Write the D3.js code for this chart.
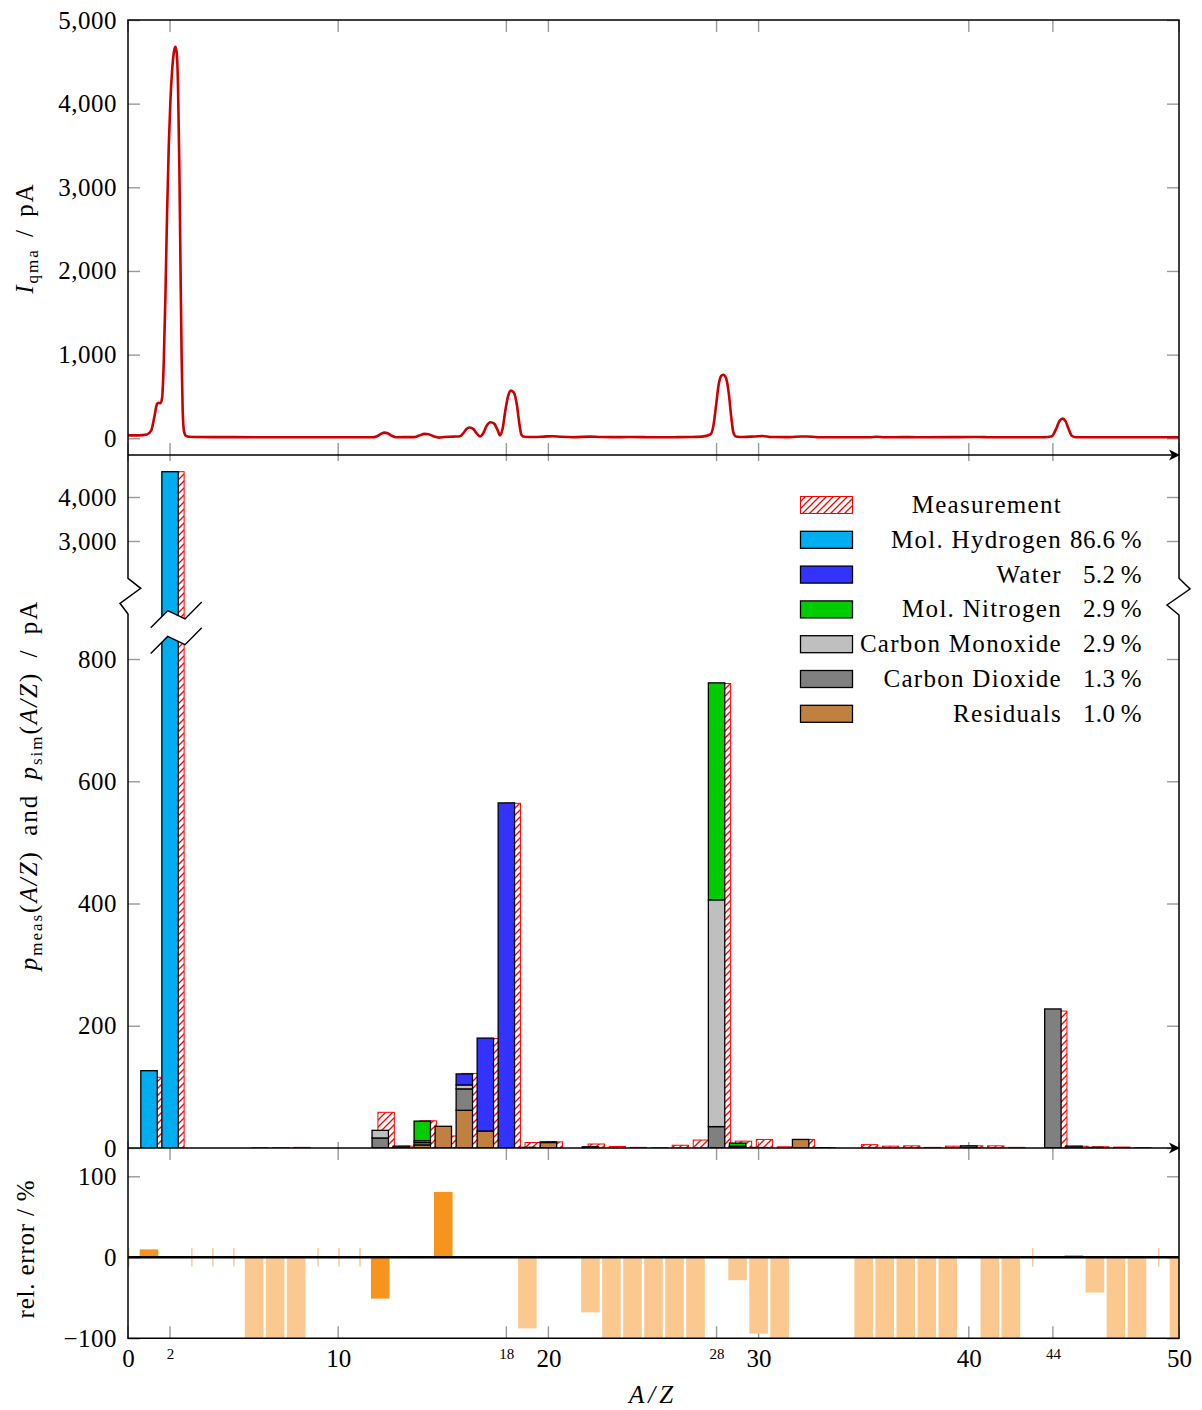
<!DOCTYPE html>
<html lang="en">
<head>
<meta charset="UTF-8">
<title>QMA spectrum and fit</title>
<script src="https://cdn.jsdelivr.net/npm/d3@7"></script>
<style>
  body { margin: 0; background: #fff; }
  svg { display: block; font-family: "Liberation Serif", "DejaVu Serif", serif; }
  .tick line { stroke: #9a9a9a; stroke-width: 1.4; }
  .tick text { fill: #000; }
</style>
</head>
<body>
<svg id="chart" width="1202" height="1410"></svg>
<script>
  // ---- data ----
  // measured QMA current along A/Z (top panel)
  const specX = [0, 0.5, 0.9, 1.1, 1.25, 1.38, 1.45, 1.55, 1.62, 1.7, 1.78, 1.86, 1.94, 2.02, 2.1, 2.2, 2.26, 2.32, 2.38, 2.44, 2.5, 2.55, 2.6, 2.66, 2.75, 2.9,
    4, 6, 8, 10, 11.6, 11.85, 12.05, 12.2, 12.35, 12.55, 12.75, 13.6, 13.85, 14.1, 14.3, 14.55, 14.8, 15.05, 15.5, 15.8, 15.95, 16.1, 16.25, 16.42, 16.6, 16.75,
    16.9, 17.05, 17.25, 17.42, 17.58, 17.7, 17.82, 17.95, 18.08, 18.22, 18.36, 18.5, 18.62, 18.72, 18.85, 19.3, 19.8, 20.2, 20.6, 21.2, 22, 22.5, 23.5, 24, 25, 26,
    26.8, 27.3, 27.7, 27.85, 27.98, 28.1, 28.22, 28.32, 28.45, 28.58, 28.7, 28.8, 28.92, 29.3, 29.8, 30.2, 30.6, 31.5, 32, 32.3, 32.8, 34, 35.3, 35.6, 36, 37, 38,
    39.5, 40.5, 41, 43.6, 43.95, 44.15, 44.3, 44.45, 44.6, 44.75, 44.9, 45.1, 46, 48, 50];
  const specY = [35, 35, 45, 90, 250, 410, 425, 420, 480, 900, 1700, 2700, 3500, 4050, 4400, 4640, 4680, 4600, 4200, 3300, 2000, 1000, 350, 90, 30, 18,
    14, 13, 12, 12, 12, 25, 55, 68, 60, 30, 13, 14, 32, 52, 48, 22, 8, 16, 20, 25, 60, 110, 128, 112, 55, 22,
    60, 145, 192, 175, 100, 35, 110, 330, 500, 570, 545, 400, 170, 40, 18, 15, 20, 25, 18, 13, 20, 15, 14, 16, 12, 13,
    15, 20, 45, 150, 400, 640, 745, 760, 720, 540, 250, 70, 22, 15, 22, 28, 15, 14, 22, 22, 13, 12, 12, 18, 12, 14, 12,
    14, 16, 12, 12, 25, 110, 200, 235, 205, 110, 30, 13, 12, 12, 12];

  // integer A/Z channels 0..50 (middle panel), pA
  const masses = d3.range(0, 51);
  const h2   = [0,126.5,4575,0,0,0,0,0,0,0, 0,0,0,0,0,0,0,0,0,0, 0,0,0,0,0,0,0,0,0,0, 0,0,0,0,0,0,0,0,0,0, 0,0,0,0,0,0,0,0,0,0, 0];
  const h2o  = [0,0,0,0,0,0,0,0,0,0, 0,0,0,0,0,0,18,152,564.6,0, 0,0,0,0,0,0,0,0,0,0, 0,0,0,0,0,0,0,0,0,0, 0,0,0,0,0,0,0,0,0,0, 0];
  const n2   = [0,0,0,0,0,0,0,0,0,0, 0,0,0,0,32,0,0,0,0,0, 0,0,0,0,0,0,0,0,355,5, 0,0,0,0,0,0,0,0,0,0, 0,0,0,0,0,0,0,0,0,0, 0];
  const co   = [0,0,0,0,0,0,0,0,0,0, 0,0,12.5,0,3,0,6.5,0,0,0, 0,0,0,0,0,0,0,0,371,2, 0,0,0,0,0,0,0,0,0,0, 0,0,0,0,0,0,0,0,0,0, 0];
  const co2  = [0,0,0,0,0,0,0,0,0,0, 0,0,16.4,3,4,0,35,0,0,0, 1,0,2,0,0,0,0,0,35,1, 0,0,0,0,0,0,0,0,0,0, 3.5,0,0,0,227.5,3,1.1,0,0,0, 0];
  const resid= [0,0,0,0,0,0,0,0,0,0, 0,0,0,0,5,35.5,61.7,27.8,0,1.1, 9,0,0,0,0,0,0,0,0,0, 0.8,0,14,0.5,0,0,0,0,0,0, 0,0,0,0,0,0,0,0,0,0, 0];
  const meas = [0,115.7,4575,0,0,0,0.5,0.5,1,0, 0,0,58.4,3,44.5,19.6,122,179,564,9, 10,0,6.5,2.5,1,0.6,4.5,13,760,11.2, 14,2,14,0.5,0,5.5,3,3.5,1,3, 3.5,3.5,1,0,224,2.9,2,1.5,0.8,0, 0.5];

  // relative error in %, NaN where undefined (bottom panel)
  const relErr = [NaN,9.8,0,NaN,NaN,NaN,-100,-100,-100,NaN, NaN,NaN,-51,0,0,80.7,0,0,0,-87.8, 0,0,-68,-100,-100,-100,-100,-100,0,-28.3,
    -94.3,-100,0,0,0,-100,-100,-100,-100,-100, 0,-100,-100,NaN,1,2.5,-43.5,-100,-100,NaN, -100];
  const relStrong = [1, 2, 12, 13, 14, 15, 16, 17, 18, 20, 28, 32, 44, 45];

  // legend
  const species = ['resid', 'co2', 'co', 'n2', 'h2o', 'h2'];
  const legendNames = ['Measurement', 'Mol. Hydrogen', 'Water', 'Mol. Nitrogen', 'Carbon Monoxide', 'Carbon Dioxide', 'Residuals'];
  const legendPct = ['', '86.6', '5.2', '2.9', '2.9', '1.3', '1.0'];

  const colors = { h2: '#00aeef', h2o: '#3333ff', n2: '#00cc00', co: '#bfbfbf', co2: '#808080', resid: '#bf8040' };
  const legendKeys = ['meas', 'h2', 'h2o', 'n2', 'co', 'co2', 'resid'];

  // ---- layout ----
  const left = 128, right = 1179;
  const p1 = { top: 20, bottom: 455 };
  const p2 = { top: 455, bottom: 1148 };
  const p3 = { top: 1148, bottom: 1338.3 };

  const x = d3.scaleLinear().domain([0, 50]).range([left, right]);
  const y1 = d3.scaleLinear().domain([-200, 5000]).range([p1.bottom, p1.top]);
  // broken axis: linear up to 900, squeezed gap, compressed upper part
  const y2 = d3.scaleLinear().domain([0, 900, 2000, 5000]).range([p2.bottom, 597.9, 585, 453]);
  const y3 = d3.scaleLinear().domain([-100, 100]).range([p3.bottom, 1176.3]);

  const svg = d3.select('#chart');
  const defs = svg.append('defs');
  const hatch = defs.append('pattern').attr('id', 'hatch')
    .attr('patternUnits', 'userSpaceOnUse').attr('width', 7).attr('height', 7);
  hatch.append('path').attr('d', 'M-1,1 l2,-2 M0,7 l7,-7 M6,8 l2,-2')
    .attr('stroke', '#ff0000').attr('stroke-width', 1.3);

  const clips = [['c1', p1], ['c2', p2], ['c3', p3]];
  clips.forEach(([id, p]) => {
    defs.append('clipPath').attr('id', id).append('rect')
      .attr('x', left).attr('y', p.top).attr('width', right - left).attr('height', p.bottom - p.top);
  });

  const tickFont = 25;

  // x ticks on one edge of a panel
  function xTicks(yPos, dir, len, values) {
    const g = svg.append('g');
    g.selectAll('line').data(values).enter().append('line')
      .attr('x1', d => x(d)).attr('x2', d => x(d))
      .attr('y1', yPos).attr('y2', yPos + dir * len)
      .attr('stroke', '#9a9a9a').attr('stroke-width', 1.4);
  }
  const xMajor = [0, 10, 20, 30, 40, 50];
  const xMinor = [2, 18, 28, 44];
  const xAll = xMajor.concat(xMinor);

  function yAxisPair(scale, values, fmt) {
    const axL = d3.axisLeft(scale).tickValues(values).tickSizeInner(-12).tickSizeOuter(0).tickPadding(11).tickFormat(fmt);
    svg.append('g').attr('transform', `translate(${left},0)`).call(axL)
      .call(g => g.select('.domain').remove())
      .call(g => g.selectAll('text').attr('font-size', tickFont).attr('font-family', 'Liberation Serif')
        .attr('letter-spacing', 0.5));
    const axR = d3.axisRight(scale).tickValues(values).tickSizeInner(-12).tickSizeOuter(0).tickFormat('');
    svg.append('g').attr('transform', `translate(${right},0)`).call(axR)
      .call(g => g.select('.domain').remove());
  }

  // ---- panel 1: spectrum ----
  xTicks(p1.top, 1, 12, xAll);
  xTicks(p1.bottom, -1, 12, xAll);
  yAxisPair(y1, [0, 1000, 2000, 3000, 4000, 5000], d3.format(','));

  const line = d3.line().x(d => x(d[0])).y(d => y1(d[1])).curve(d3.curveMonotoneX);
  svg.append('path').datum(specX.map((v, i) => [v, specY[i]]))
    .attr('clip-path', 'url(#c1)')
    .attr('d', line).attr('fill', 'none').attr('stroke', '#cc0000').attr('stroke-width', 2.6)
    .attr('stroke-linejoin', 'round');

  // ---- panel 2: stacked fit vs measurement ----
  xTicks(p2.top, 1, 6, xAll);
  xTicks(p2.bottom, -1, 6, xAll);
  yAxisPair(y2, [0, 200, 400, 600, 800, 3000, 4000], d3.format(','));

  const barW = 0.78;
  const measShift = 0.28;
  const table = masses.map((m, i) => ({
    mass: m, h2: h2[i], h2o: h2o[i], n2: n2[i], co: co[i], co2: co2[i], resid: resid[i], meas: meas[i]
  }));

  const g2 = svg.append('g').attr('clip-path', 'url(#c2)');
  g2.selectAll('rect.meas').data(table.filter(d => d.meas > 0)).enter().append('rect')
    .attr('class', 'meas')
    .attr('x', d => x(d.mass + measShift - barW / 2))
    .attr('width', x(barW) - x(0))
    .attr('y', d => y2(d.meas))
    .attr('height', d => y2(0) - y2(d.meas))
    .attr('fill', 'url(#hatch)').attr('stroke', '#ff0000').attr('stroke-width', 1);

  const stacked = d3.stack().keys(species)(table);
  stacked.forEach(layer => {
    g2.selectAll(null).data(layer.filter(d => d[1] - d[0] > 0)).enter().append('rect')
      .attr('x', d => x(d.data.mass - barW / 2))
      .attr('width', x(barW) - x(0))
      .attr('y', d => y2(d[1]))
      .attr('height', d => y2(d[0]) - y2(d[1]))
      .attr('fill', colors[layer.key]).attr('stroke', '#000').attr('stroke-width', 1.3);
  });

  // break marks across the tall mass-2 column
  const bx = x(2), byTop = 615, gap = 25.7;
  const zig = [[-19.3, 12.7], [-2.3, -4.3], [15, 4], [31.7, -13]];
  const upper = zig.map(p => [bx + p[0], byTop + p[1]]);
  const lower = zig.map(p => [bx + p[0], byTop + gap + p[1]]);
  svg.append('path')
    .attr('d', d3.line()(upper.concat(lower.slice().reverse())) + 'Z')
    .attr('fill', '#fff').attr('stroke', 'none');
  [upper, lower].forEach(pts => {
    svg.append('path').attr('d', d3.line()(pts)).attr('fill', 'none').attr('stroke', '#000').attr('stroke-width', 1.4);
  });

  // ---- panel 3: relative error ----
  xTicks(p3.top, 1, 12, xAll);
  xTicks(p3.bottom, -1, 12, xAll);
  yAxisPair(y3, [-100, 0, 100], d3.format('d'));

  const relW = 0.885;
  const relRows = masses.map((m, i) => ({ mass: m, v: relErr[i], strong: relStrong.includes(m) }));
  const g3 = svg.append('g').attr('clip-path', 'url(#c3)');
  g3.selectAll('rect').data(relRows.filter(d => !isNaN(d.v) && d.v !== 0)).enter().append('rect')
    .attr('x', d => x(d.mass - relW / 2))
    .attr('width', x(relW) - x(0))
    .attr('y', d => y3(Math.max(d.v, 0)))
    .attr('height', d => Math.abs(y3(d.v) - y3(0)))
    .attr('fill', d => d.strong ? '#f7941d' : '#fbc98f');
  g3.selectAll('line').data(relRows.filter(d => isNaN(d.v))).enter().append('line')
    .attr('x1', d => x(d.mass) + 0.8).attr('x2', d => x(d.mass) + 0.8)
    .attr('y1', y3(11.5)).attr('y2', y3(-11.5))
    .attr('stroke', '#fbc98f').attr('stroke-width', 1.5);
  svg.append('line').attr('x1', left).attr('x2', right).attr('y1', y3(0)).attr('y2', y3(0))
    .attr('stroke', '#000').attr('stroke-width', 2.6);

  // x tick labels (bottom only)
  svg.append('g').attr('transform', `translate(0,${p3.bottom})`)
    .call(d3.axisBottom(x).tickValues(xMajor).tickSize(0).tickPadding(11).tickFormat(d3.format('d')))
    .call(g => g.select('.domain').remove())
    .call(g => g.selectAll('text').attr('font-size', tickFont).attr('font-family', 'Liberation Serif'));
  svg.append('g').attr('transform', `translate(0,${p3.bottom})`)
    .call(d3.axisBottom(x).tickValues(xMinor).tickSize(0).tickPadding(10).tickFormat(d3.format('d')))
    .call(g => g.select('.domain').remove())
    .call(g => g.selectAll('text').attr('font-size', 15).attr('font-family', 'Liberation Serif'));

  // ---- frames ----
  const frame = svg.append('g').attr('fill', 'none').attr('stroke', '#000').attr('stroke-width', 1.5);
  frame.append('path').attr('d', `M${left},${p1.bottom}V${p1.top}H${right}V${p1.bottom}`);
  frame.append('path').attr('d',
    `M${left},${p2.top}V578.3L140.7,588.3L120,603.3L${left},614V${p2.bottom}`);
  frame.append('path').attr('d',
    `M${right},${p2.top}V578.3L1190,589L1167,605L${right},615V${p2.bottom}`);
  frame.append('path').attr('d', `M${left},${p3.top}V${p3.bottom}H${right}V${p3.top}`);
  [p1.bottom, p2.bottom].forEach(yy => {
    frame.append('line').attr('x1', left).attr('x2', right - 4).attr('y1', yy).attr('y2', yy);
    svg.append('path').attr('d', `M${right + 1},${yy}L${right - 10},${yy - 5.5}L${right - 7},${yy}L${right - 10},${yy + 5.5}Z`)
      .attr('fill', '#000');
  });

  // ---- legend ----
  const legY = [505, 539.8, 574.6, 609.4, 644.2, 679, 713.8];
  const leg = svg.append('g').attr('font-size', 25);
  legendKeys.forEach((k, i) => {
    leg.append('rect').attr('x', 800.5).attr('y', legY[i] - 8.5).attr('width', 52).attr('height', 17)
      .attr('fill', k === 'meas' ? 'url(#hatch)' : colors[k])
      .attr('stroke', k === 'meas' ? '#ff0000' : '#000').attr('stroke-width', k === 'meas' ? 1 : 1.3);
    leg.append('text').attr('x', 1062).attr('y', legY[i] + 8).attr('text-anchor', 'end')
      .attr('letter-spacing', 1.3).text(legendNames[i]);
    if (legendPct[i]) {
      leg.append('text').attr('x', 1142).attr('y', legY[i] + 8).attr('text-anchor', 'end')
        .attr('letter-spacing', 0.4).text(legendPct[i] + '\u2009%');
    }
  });

  // ---- axis titles ----
  const t1 = svg.append('text').attr('transform', 'translate(33,238) rotate(-90)')
    .attr('text-anchor', 'middle').attr('font-size', 25).attr('letter-spacing', 2).attr('word-spacing', 3);
  t1.append('tspan').attr('font-style', 'italic').text('I');
  t1.append('tspan').attr('font-size', 17).attr('dy', 5).text('qma');
  t1.append('tspan').attr('dy', -5).text(' / pA');

  const t2 = svg.append('text').attr('transform', 'translate(37,785) rotate(-90)')
    .attr('text-anchor', 'middle').attr('font-size', 25).attr('letter-spacing', 2).attr('word-spacing', 6);
  t2.append('tspan').attr('font-style', 'italic').text('p');
  t2.append('tspan').attr('font-size', 17).attr('dy', 5).text('meas');
  t2.append('tspan').attr('dy', -5).text('(');
  t2.append('tspan').attr('font-style', 'italic').text('A/Z');
  t2.append('tspan').text(') and ');
  t2.append('tspan').attr('font-style', 'italic').text('p');
  t2.append('tspan').attr('font-size', 17).attr('dy', 5).text('sim');
  t2.append('tspan').attr('dy', -5).text('(');
  t2.append('tspan').attr('font-style', 'italic').text('A/Z');
  t2.append('tspan').text(') / pA');

  svg.append('text').attr('transform', 'translate(34,1249) rotate(-90)')
    .attr('text-anchor', 'middle').attr('font-size', 25).attr('letter-spacing', 0.8).text('rel. error / %');

  svg.append('text').attr('x', 653).attr('y', 1403).attr('text-anchor', 'middle')
    .attr('font-size', 25).attr('font-style', 'italic').attr('letter-spacing', 4).text('A/Z');
</script>
</body>
</html>
